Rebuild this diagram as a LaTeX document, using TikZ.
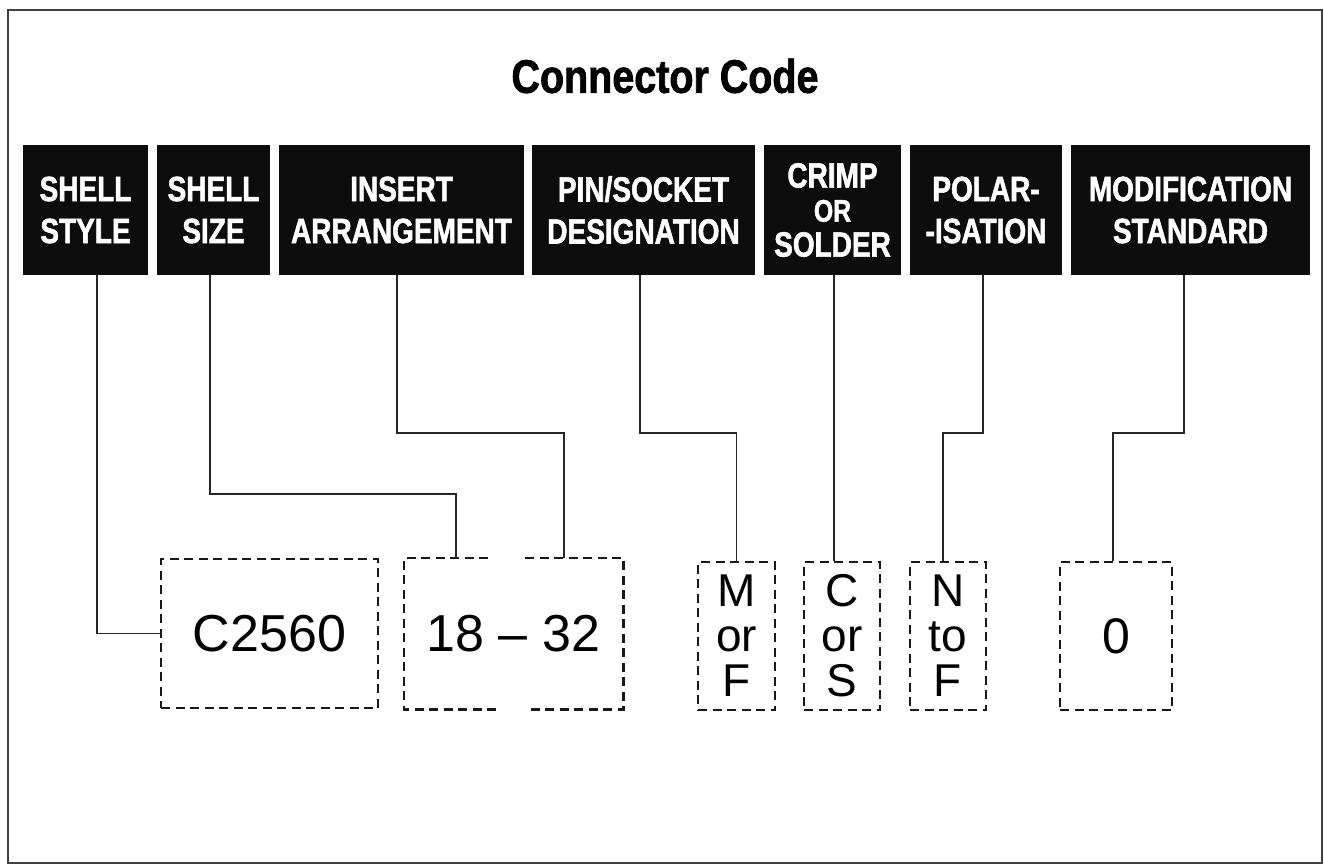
\documentclass[tikz,border=0pt]{standalone}
\usepackage{fontspec}
\setmainfont{Liberation Sans}
\newfontfamily\condbold{Liberation Sans}[FakeStretch=0.8, BoldFeatures={FakeBold=1.5}]
\newfontfamily\titlefont{Liberation Sans}[FakeStretch=0.84, BoldFeatures={FakeBold=1.5}]
\usetikzlibrary{calc}
\begin{document}
\begin{tikzpicture}[x=1pt,y=-1pt,
  hdr/.style={fill=black!95, text=white, inner sep=0pt, minimum height=130pt, align=center,
    font=\condbold\bfseries\fontsize{35}{42}\selectfont},
  dashbox/.style={draw=black!90, line width=2.5pt, dash pattern=on 9pt off 5.5pt},
  val/.style={dashbox, inner sep=0pt, minimum height=149pt, align=center,
    font=\fontsize{52}{44}\selectfont},
  tall/.style={val, minimum height=148pt, font=\fontsize{46}{45}\selectfont},
  conn/.style={draw=black!85, line width=1.8pt}]
\useasboundingbox (0,0) rectangle (1324,867);
\draw[draw=black!75, line width=2.6pt] (8,10) rectangle (1322,863);

\node[font=\titlefont\bfseries\fontsize{47}{50}\selectfont] (title) at (665,76) {Connector Code};

\node[hdr, minimum width=125pt] (b1) at (85.5,210) {SHELL\\STYLE};
\node[hdr, minimum width=113pt] (b2) at (213.5,210) {SHELL\\SIZE};
\node[hdr, minimum width=245pt] (b3) at (401.5,210) {INSERT\\ARRANGEMENT};
\node[hdr, minimum width=223pt] (b4) at (643.5,210) {PIN/SOCKET\\DESIGNATION};
\node[hdr, minimum width=137pt] (b5) at (832.5,210) {CRIMP\\[-8pt]{\fontsize{31}{30}\selectfont OR}\\[-7pt]SOLDER};
\node[hdr, minimum width=152pt] (b6) at (986,210) {POLAR-\\-ISATION};
\node[hdr, minimum width=239pt] (b7) at (1190.5,210) {MODIFICATION\\STANDARD};

\node[val, minimum width=217pt] (c1) at (269.5,633.5) {C2560};
\node[val, draw=none, minimum width=217pt] (c2) at (513.5,633.5) {18 -- 32};
\draw[dashbox] ([xshift=-25.5pt]c2.north) -| (c2.south west) -- ([xshift=-15.5pt]c2.south);
\draw[dashbox] ([xshift=11.5pt]c2.north) -| (c2.south east) -- ([xshift=14.5pt]c2.south);
\node[tall, minimum width=77pt] (c3) at (736.5,636) {M\\or\\F};
\node[tall, minimum width=76pt] (c4) at (842,636) {C\\or\\S};
\node[tall, minimum width=76pt] (c5) at (948,636) {N\\to\\F};
\node[val, minimum width=112pt, minimum height=148pt, font=\fontsize{50}{44}\selectfont] (c6) at (1116,636) {0};

\draw[conn] ([xshift=11.5pt]b1.south) |- (c1.west);
\draw[conn] ([xshift=-3.5pt]b2.south) -- ++(0,219) -| ([xshift=-57.5pt]c2.north);
\draw[conn] ([xshift=-4.5pt]b3.south) -- ++(0,158) -| ([xshift=50.5pt]c2.north);
\draw[conn] ([xshift=-3.5pt]b4.south) -- ++(0,158) -| (c3.north);
\draw[conn] ([xshift=1.5pt]b5.south) -- ([xshift=-8pt]c4.north);
\draw[conn] ([xshift=-3pt]b6.south) -- ++(0,158) -| ([xshift=-5pt]c5.north);
\draw[conn] ([xshift=-6.5pt]b7.south) -- ++(0,158) -| ([xshift=-3pt]c6.north);
\end{tikzpicture}
\end{document}
